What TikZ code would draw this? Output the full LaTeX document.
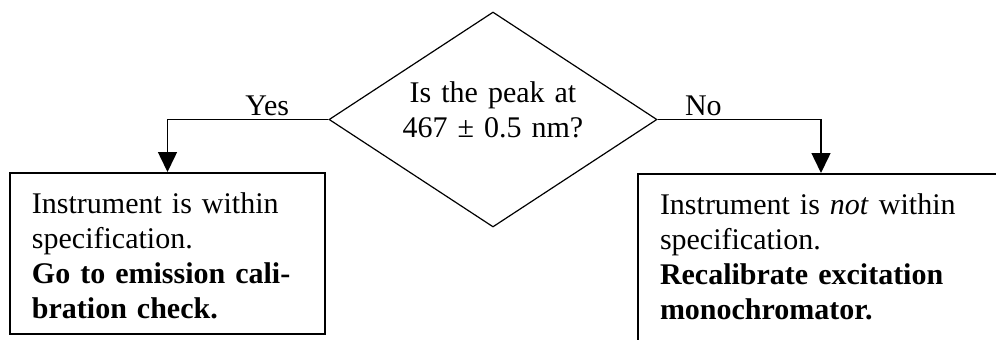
\documentclass[tikz,border=0pt]{standalone}
\usepackage{fontspec}
\setmainfont{Liberation Serif}
\usepackage{tikz}
\usetikzlibrary{shapes.geometric, arrows.meta, positioning}
\tikzset{
  outcome/.style={rectangle, draw=black, line width=1pt, align=left,
    inner xsep=11pt, inner ysep=0pt, text height=20pt},
  decision/.style={diamond, draw=black, line width=0.6pt, align=center,
    shape aspect=1.53, minimum width=164pt, minimum height=107.5pt,
    inner sep=0pt, text width=92pt, text height=10pt, text depth=27.5pt},
  arrow/.style={-{Triangle[length=10pt, width=9.5pt]}, line width=0.75pt, color=black},
  answer/.style={above, inner sep=1.5pt}
}

\begin{document}
\begin{tikzpicture}[x=0.5pt, y=-0.5pt, font=\fontsize{15}{17.5}\selectfont]
  \useasboundingbox (0,0) rectangle (996,339);
  \clip (0,0) rectangle (996,339);

  % Question
  \node[decision] (peak) at (493,119.5) {Is the peak at\\467 ± 0.5 nm?};

  % Outcomes
  \node[outcome, anchor=north west, text width=135.5pt, text depth=60.5pt] (pass) at (9,172)
    {Instrument is within\\specification.\\{\bfseries Go to emission cali-\\bration check.}};
  \node[outcome, anchor=north west, text width=161pt, text depth=75pt] (fail) at (637,173)
    {Instrument is \textit{not} within\\specification.\\{\bfseries Recalibrate excitation\\monochromator.}};

  % Branches
  \draw[arrow] (peak.west) -| node[answer, pos=0.19] {Yes} (pass.north);
  \draw[arrow] (peak.east) -| node[answer, pos=0.14] {No} (fail.north);
\end{tikzpicture}
\end{document}
